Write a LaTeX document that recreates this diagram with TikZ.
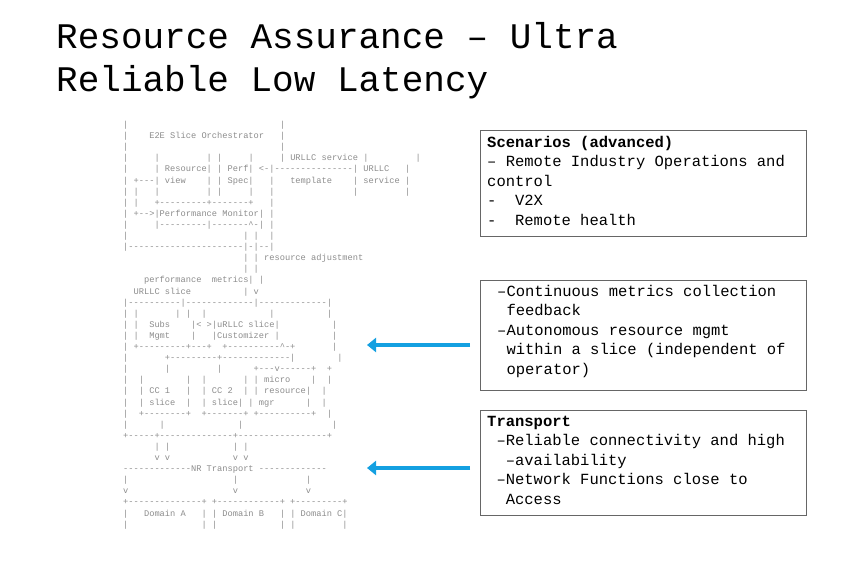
\documentclass[tikz,border=0pt]{standalone}
\usepackage{fontspec}
\setmonofont{Liberation Mono}
\usetikzlibrary{arrows.meta}
\begin{document}
\begin{tikzpicture}[x=1pt,y=1pt,
  box/.style={draw=black!60,line width=0.6pt},
  btext/.style={anchor=north west,inner sep=0pt,align=left,font=\ttfamily\fontsize{15.5}{19.4}\selectfont},
  arr/.style={draw={rgb,255:red,20;green,160;blue,225},line width=4pt,-{Triangle[length=9pt,width=14pt]}}]
\useasboundingbox (0,0) rectangle (851,-567);
\node[anchor=north west,inner sep=0pt,align=left,font=\ttfamily\fontsize{36}{43}\selectfont] (title) at (56,-22) {Resource Assurance – Ultra\\Reliable Low Latency};
\node[anchor=north west,inner sep=0pt,align=left,text=black!45,font=\ttfamily\fontsize{8.7}{11.1}\selectfont] (ascii) at (123,-121) {%
|~~~~~~~~~~~~~~~~~~~~~~~~~~~~~|\\
|~~~~E2E~Slice~Orchestrator~~~|\\
|~~~~~~~~~~~~~~~~~~~~~~~~~~~~~|\\
|~~~~~|~~~~~~~~~|~|~~~~~|~~~~~|~URLLC~service~|~~~~~~~~~|\\
|~~~~~|~Resource|~|~Perf|~<-|---------------|~URLLC~~~|\\
|~+---|~view~~~~|~|~Spec|~~~|~~~template~~~~|~service~|\\
|~|~~~|~~~~~~~~~|~|~~~~~|~~~|~~~~~~~~~~~~~~~|~~~~~~~~~|\\
|~|~~~+---------+-------+~~~|\\
|~+-->|Performance~Monitor|~|\\
|~~~~~|---------|-------\^{}-|~|\\
|~~~~~~~~~~~~~~~~~~~~~~|~|~~|\\
|----------------------|-|--|\\
~~~~~~~~~~~~~~~~~~~~~~~|~|~resource~adjustment\\
~~~~~~~~~~~~~~~~~~~~~~~|~|\\
~~~~performance~~metrics|~|\\
~~URLLC~slice~~~~~~~~~~|~v\\
|----------|-------------|-------------|\\
|~|~~~~~~~|~|~~|~~~~~~~~~~~~|~~~~~~~~~~|\\
|~|~~Subs~~~~|<~>|uRLLC~slice|~~~~~~~~~~|\\
|~|~~Mgmt~~~~|~~~|Customizer~|~~~~~~~~~~|\\
|~+---------+---+~~+----------\^{}-+~~~~~~~|\\
|~~~~~~~+---------+-------------|~~~~~~~~|\\
|~~~~~~~|~~~~~~~~~|~~~~~~+---v------+~~+\\
|~~|~~~~~~~~|~~|~~~~~~~|~|~micro~~~~|~~|\\
|~~|~CC~1~~~|~~|~CC~2~~|~|~resource|~~|\\
|~~|~slice~~|~~|~slice|~|~mgr~~~~~~|~~|\\
|~~+--------+~~+-------+~+----------+~~|\\
|~~~~~~|~~~~~~~~~~~~~~|~~~~~~~~~~~~~~~~~|\\
+-----+--------------+-----------------+\\
~~~~~~|~|~~~~~~~~~~~~|~|\\
~~~~~~v~v~~~~~~~~~~~~v~v\\
-------------NR~Transport~-------------\\
|~~~~~~~~~~~~~~~~~~~~|~~~~~~~~~~~~~|\\
v~~~~~~~~~~~~~~~~~~~~v~~~~~~~~~~~~~v\\
+--------------+~+------------+~+---------+\\
|~~~Domain~A~~~|~|~Domain~B~~~|~|~Domain~C|\\
|~~~~~~~~~~~~~~|~|~~~~~~~~~~~~|~|~~~~~~~~~|};
\draw[box] (480,-130) rectangle (806,-236);
\node[btext] (t1) at (487,-136) {\textbf{Scenarios (advanced)}\\– Remote Industry Operations and\\control\\-~ V2X\\-~ Remote health};
\draw[box] (480,-280) rectangle (806,-390);
\node[btext] (t2) at (497,-285) {–Continuous metrics collection\\\ feedback\\–Autonomous resource mgmt\\\ within a slice (independent of\\\ operator)};
\draw[box] (480,-410) rectangle (806,-515);
\node[btext] (t3) at (487,-416) {\textbf{Transport}\\\ –Reliable connectivity and high\\\ \ –availability\\\ –Network Functions close to\\\ \ Access};
\coordinate (a1s) at (470,-345); \coordinate (a1e) at (367,-345);
\coordinate (a2s) at (470,-468); \coordinate (a2e) at (367,-468);
\draw[arr] (a1s) -- (a1e);
\draw[arr] (a2s) -- (a2e);
\end{tikzpicture}
\end{document}
